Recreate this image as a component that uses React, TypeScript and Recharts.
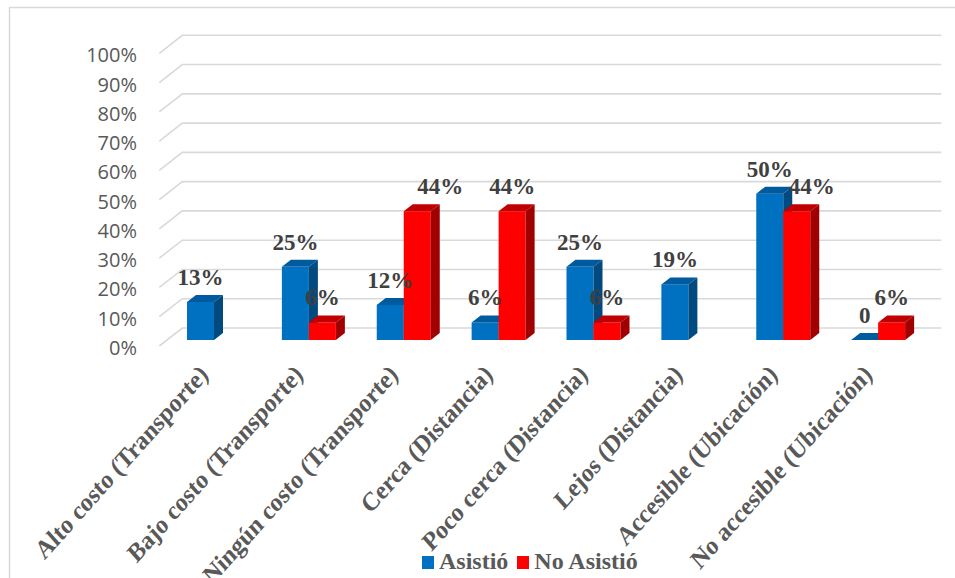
import React from 'react';
import { BarChart, Bar, XAxis, YAxis, CartesianGrid, LabelList, Legend } from 'recharts';

// Categories and values (percent of respondents)
const categories = [
  'Alto costo (Transporte)',
  'Bajo costo (Transporte)',
  'Ningún costo (Transporte)',
  'Cerca (Distancia)',
  'Poco cerca (Distancia)',
  'Lejos (Distancia)',
  'Accesible (Ubicación)',
  'No accesible (Ubicación)',
];
const asistio: (number | null)[] = [13, 25, 12, 6, 25, 19, 50, 0];
const noAsistio: (number | null)[] = [null, 6, 44, 44, 6, null, 44, 6];
const yTicks = [0, 10, 20, 30, 40, 50, 60, 70, 80, 90, 100];

const data = categories.map((name, i) => ({ name, asistio: asistio[i], noAsistio: noAsistio[i] }));

// pseudo-3D depth of bars and of the back wall
const DEPTH_X = 9;
const DEPTH_Y = 7;
const WALL_FRONT = { dx: -7.7, dy: 6 };
const WALL_BACK = { dx: 15.3, dy: -12 };

const BLUE = { front: '#0070C0', top: '#005A9E', side: '#004A80' };
const RED = { front: '#FF0000', top: '#C00000', side: '#A00000' };

// label nudges (x, px) for the "No Asistió" series, to keep labels apart
const noAsistioLabelNudge: Record<number, number> = { 1: 23, 4: 15, 6: 27 };

const serif = 'Liberation Serif, Tinos, Times New Roman, Nimbus Roman, DejaVu Serif, serif';
const sans = 'Open Sans, Noto Sans, sans-serif';

function make3DBar(colors: { front: string; top: string; side: string }, key: string) {
  return (props: any) => {
    const { x, y, width, height, payload } = props;
    if (payload == null || payload[key] == null) return <g />;
    const h = Math.max(0, height);
    const dx = DEPTH_X;
    const dy = DEPTH_Y;
    return (
      <g>
        <rect x={x} y={y} width={width} height={h} fill={colors.front} />
        <polygon
          points={`${x},${y} ${x + dx},${y - dy} ${x + width + dx},${y - dy} ${x + width},${y}`}
          fill={colors.top}
        />
        <polygon
          points={`${x + width},${y} ${x + width + dx},${y - dy} ${x + width + dx},${y + h - dy} ${x + width},${y + h}`}
          fill={colors.side}
        />
      </g>
    );
  };
}

function makeValueLabel(nudge: Record<number, number>) {
  return (props: any) => {
    const { x, y, width, value, index } = props;
    if (value == null) return null;
    const text = value === 0 ? '0' : `${value}%`;
    const cx = x + width / 2 + (nudge[index] || 0);
    return (
      <text
        x={cx}
        y={y - 17}
        textAnchor="middle"
        style={{ fontFamily: serif, fontWeight: 700, fontSize: 23 }}
        fill="#404040"
      >
        {text}
      </text>
    );
  };
}

const GridLine = (props: any) => {
  const { x1, x2, y1, key } = props;
  const d = `M${x1 + WALL_FRONT.dx},${y1 + WALL_FRONT.dy} L${x1 + WALL_BACK.dx},${y1 + WALL_BACK.dy} L${x2 + WALL_BACK.dx},${y1 + WALL_BACK.dy}`;
  return <path key={key} d={d} stroke="#D9D9D9" strokeWidth={1.6} fill="none" />;
};

const YTick = (props: any) => {
  const { x, y, payload } = props;
  return (
    <text x={x - 22} y={y + 15} textAnchor="end" style={{ fontFamily: sans, fontSize: 20 }} fill="#595959">
      {`${payload.value}%`}
    </text>
  );
};

const XTick = (props: any) => {
  const { x, y, payload } = props;
  const ax = x - 5;
  const ay = y + 28;
  return (
    <text
      x={0}
      y={0}
      transform={`translate(${ax} ${ay}) scale(1 1.12) rotate(-45)`}
      textAnchor="end"
      style={{ fontFamily: serif, fontWeight: 700, fontSize: 23.5 }}
      fill="#595959"
    >
      {payload.value}
    </text>
  );
};

const LegendContent = (props: any) => {
  const { payload } = props;
  return (
    <div style={{ display: 'flex', justifyContent: 'flex-start', alignItems: 'baseline', gap: 9, paddingLeft: 422 }}>
      {payload.map((item: any) => (
        <span key={item.value} style={{ display: 'inline-flex', alignItems: 'baseline', gap: 5 }}>
          <span style={{ display: 'inline-block', width: 12, height: 13, background: item.color }} />
          <span style={{ fontFamily: serif, fontWeight: 700, fontSize: 24, color: '#595959' }}>
            {item.value}
          </span>
        </span>
      ))}
    </div>
  );
};

export default function App() {
  return (
    <div style={{ position: 'absolute', left: 0, top: 0, width: 955, height: 578, background: '#fff', overflow: 'hidden' }}>
      <svg width={955} height={578} style={{ position: 'absolute', left: 0, top: 0 }}>
        <rect x={9.5} y={7.5} width={1000} height={700} fill="none" stroke="#D9D9D9" strokeWidth={1.5} />
      </svg>
      <div style={{ position: 'absolute', left: 0, top: 0 }}>
        <BarChart
          width={955}
          height={578}
          data={data}
          margin={{ top: 47.3, right: 29, bottom: 0, left: 0 }}
          barSize={27}
          barGap={0}
        >
          <CartesianGrid vertical={false} horizontal={GridLine} />
          <XAxis dataKey="name" interval={0} axisLine={false} tickLine={false} height={238} tick={XTick} />
          <YAxis
            width={167}
            domain={[0, 100]}
            ticks={yTicks}
            axisLine={false}
            tickLine={false}
            tick={YTick}
          />
          <Legend
            layout="horizontal"
            verticalAlign="middle"
            align="center"
            content={LegendContent}
            wrapperStyle={{ top: 548, left: 0, width: 955 }}
          />
          <Bar dataKey="asistio" name="Asistió" fill={BLUE.front} shape={make3DBar(BLUE, 'asistio')} isAnimationActive={false}>
            <LabelList dataKey="asistio" content={makeValueLabel({})} />
          </Bar>
          <Bar dataKey="noAsistio" name="No Asistió" fill={RED.front} shape={make3DBar(RED, 'noAsistio')} isAnimationActive={false}>
            <LabelList dataKey="noAsistio" content={makeValueLabel(noAsistioLabelNudge)} />
          </Bar>
        </BarChart>
      </div>
    </div>
  );
}
